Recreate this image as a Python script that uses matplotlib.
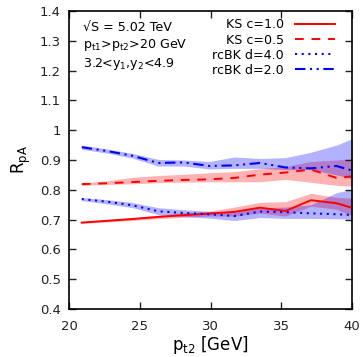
import matplotlib
matplotlib.use("Agg")
import matplotlib.pyplot as plt

pt2 = [20.9, 22.7, 24.5, 26.3, 28.1, 29.9, 31.7, 33.5, 35.3, 37.1, 38.9, 40.7]

ks10 = [0.690, 0.696, 0.702, 0.709, 0.715, 0.720, 0.726, 0.740, 0.729, 0.765, 0.755, 0.730]
ks10_hi = [0.693, 0.700, 0.707, 0.715, 0.722, 0.728, 0.742, 0.758, 0.760, 0.788, 0.775, 0.770]
ks10_lo = [0.687, 0.692, 0.697, 0.703, 0.708, 0.712, 0.712, 0.722, 0.712, 0.745, 0.735, 0.700]

ks05 = [0.819, 0.822, 0.826, 0.830, 0.833, 0.835, 0.840, 0.851, 0.858, 0.868, 0.840, 0.848]
ks05_hi = [0.823, 0.830, 0.842, 0.848, 0.852, 0.857, 0.861, 0.871, 0.878, 0.895, 0.900, 0.905]
ks05_lo = [0.815, 0.818, 0.820, 0.824, 0.826, 0.827, 0.827, 0.827, 0.835, 0.825, 0.815, 0.810]

bk40 = [0.769, 0.760, 0.748, 0.728, 0.722, 0.718, 0.712, 0.727, 0.725, 0.721, 0.718, 0.714]
bk40_hi = [0.774, 0.767, 0.757, 0.740, 0.733, 0.728, 0.725, 0.740, 0.742, 0.750, 0.790, 0.810]
bk40_lo = [0.764, 0.753, 0.740, 0.717, 0.710, 0.705, 0.697, 0.707, 0.704, 0.704, 0.703, 0.700]

bk20 = [0.943, 0.930, 0.914, 0.890, 0.892, 0.880, 0.882, 0.890, 0.875, 0.872, 0.880, 0.855]
bk20_hi = [0.950, 0.937, 0.922, 0.902, 0.900, 0.895, 0.910, 0.905, 0.908, 0.926, 0.950, 0.985]
bk20_lo = [0.936, 0.923, 0.906, 0.880, 0.880, 0.870, 0.872, 0.872, 0.868, 0.868, 0.850, 0.830]

labels = ["KS c=1.0", "KS c=0.5", "rcBK d=4.0", "rcBK d=2.0"]
xticks = [20, 25, 30, 35, 40]
yticks = [0.4, 0.5, 0.6, 0.7, 0.8, 0.9, 1.0, 1.1, 1.2, 1.3, 1.4]
yticklabels = ["0.4", "0.5", "0.6", "0.7", "0.8", "0.9", "1", "1.1", "1.2", "1.3", "1.4"]

RED = "#ff0000"
BLUE = "#0000ff"

fig = plt.figure(figsize=(3.63, 3.57), dpi=100)
ax = fig.add_axes([69/363, 1-309/357, (352-69)/363, (309-11)/357])

ax.fill_between(pt2, ks10_lo, ks10_hi, color=RED, alpha=0.3, lw=0)
ax.fill_between(pt2, ks05_lo, ks05_hi, color=RED, alpha=0.3, lw=0)
ax.fill_between(pt2, bk40_lo, bk40_hi, color=BLUE, alpha=0.3, lw=0)
ax.fill_between(pt2, bk20_lo, bk20_hi, color=BLUE, alpha=0.3, lw=0)

l1, = ax.plot(pt2, ks10, color=RED, lw=1.4, ls="-")
l2, = ax.plot(pt2, ks05, color=RED, lw=1.4, ls=(0, (4.5, 4)))
l3, = ax.plot(pt2, bk40, color=BLUE, lw=1.5, ls=(0, (1, 2.2)))
l4, = ax.plot(pt2, bk20, color=BLUE, lw=1.5, ls=(0, (5, 2.2, 1, 2.2, 1, 2.2)))

ax.set_xlim(20, 40)
ax.set_ylim(0.4, 1.4)
ax.set_xticks(xticks)
ax.set_xticklabels([str(t) for t in xticks])
ax.set_yticks(yticks)
ax.set_yticklabels(yticklabels)
ax.tick_params(direction="in", length=5, width=1, top=True, right=True,
               labelsize=9.5, colors="#222222")
ax.tick_params(axis="x", pad=8)
ax.tick_params(axis="y", pad=6)
for s in ax.spines.values():
    s.set_linewidth(1.2)

ax.set_xlabel(r"$\mathregular{p_{t2}}$ [GeV]", fontsize=12, labelpad=1)
ax.set_ylabel(r"$\mathregular{R_{pA}}$", fontsize=12, labelpad=5)

fs = 9.1
ax.text(0.048, 0.946, "\u221aS = 5.02 TeV", transform=ax.transAxes, fontsize=fs, va="center", ha="left")
ax.text(0.048, 0.886, r"$\mathregular{p_{t1}}$>$\mathregular{p_{t2}}$>20 GeV", transform=ax.transAxes, fontsize=fs, va="center", ha="left")
ax.text(0.048, 0.823, r"3.2<$\mathregular{y_{1}}$,$\mathregular{y_{2}}$<4.9", transform=ax.transAxes, fontsize=fs, va="center", ha="left")

leg = ax.legend([l1, l2, l3, l4], labels, loc="upper right", bbox_to_anchor=(0.97, 1.005),
                frameon=False, markerfirst=False, fontsize=fs, handlelength=3.1,
                handletextpad=0.9, labelspacing=0.17, borderaxespad=0.3)

fig.savefig("out.png", dpi=100)
